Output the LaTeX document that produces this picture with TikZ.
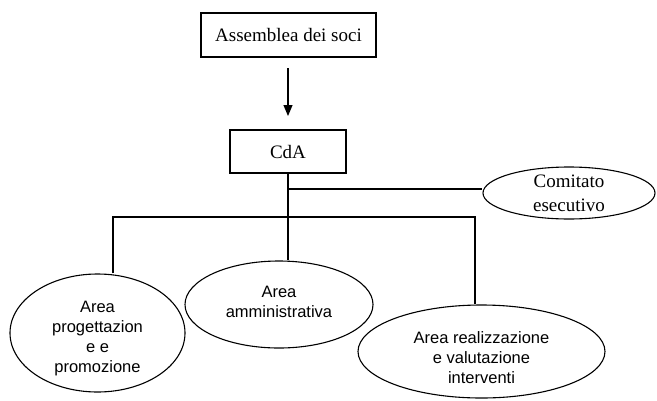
\documentclass[tikz,border=0pt]{standalone}
\usepackage{fontspec}
\setmainfont{Liberation Serif}
\newfontfamily\areafont{Liberation Sans}
\usetikzlibrary{shapes.geometric,arrows.meta}
\begin{document}
\begin{tikzpicture}[x=1pt,y=-1pt,line width=1.1pt,
  boxnode/.style={draw,rectangle,inner sep=0pt,font=\fontsize{19}{23}\selectfont},
  ovalnode/.style={draw,ellipse,inner sep=0pt},
  areatext/.style={inner sep=0pt,align=center,font=\areafont\fontsize{16.5}{20}\selectfont},
  comnode/.style={draw,ellipse,inner sep=0pt,align=center,font=\fontsize{19}{24}\selectfont},
  conn/.style={line width=1.1pt}]
\useasboundingbox (0,0) rectangle (657,400);
\node[boxnode,minimum width=175pt,minimum height=44pt] (ass) at (288.5,35) {Assemblea dei soci};
\node[boxnode,minimum width=116pt,minimum height=43pt] (cda) at (288,151.5) {CdA};
\node[comnode,minimum width=172pt,minimum height=49pt] (com) at (569,193) {Comitato\\esecutivo};
\node[ovalnode,minimum width=175pt,minimum height=118pt,
  label={[areatext,yshift=-6pt]center:{Area\\progettazion\\e e\\promozione}}] (prog) at (97.5,333) {};
\node[ovalnode,minimum width=188pt,minimum height=87pt,
  label={[areatext,yshift=3pt]center:{Area\\amministrativa}}] (amm) at (279,304.5) {};
\node[ovalnode,minimum width=247pt,minimum height=93pt,
  label={[areatext,yshift=-6pt]center:{Area realizzazione\\e valutazione\\interventi}}] (real) at (481.5,351.5) {};
\coordinate (a1) at (288,68);
\coordinate (a2) at (288,116);
\coordinate (cj) at (288,189);
\coordinate (bl) at (113,217);
\coordinate (br) at (475,217);
\draw[conn,-{Triangle[width=9pt,length=11pt]}] (a1) -- (a2);
\draw[conn] (cda.south) -- (cda.south |- amm.north);
\draw[conn] (cj) -- (cj -| com.west);
\draw[conn] (bl |- prog.north) -- (bl) -- (br) -- (br |- real.north);
\end{tikzpicture}
\end{document}
